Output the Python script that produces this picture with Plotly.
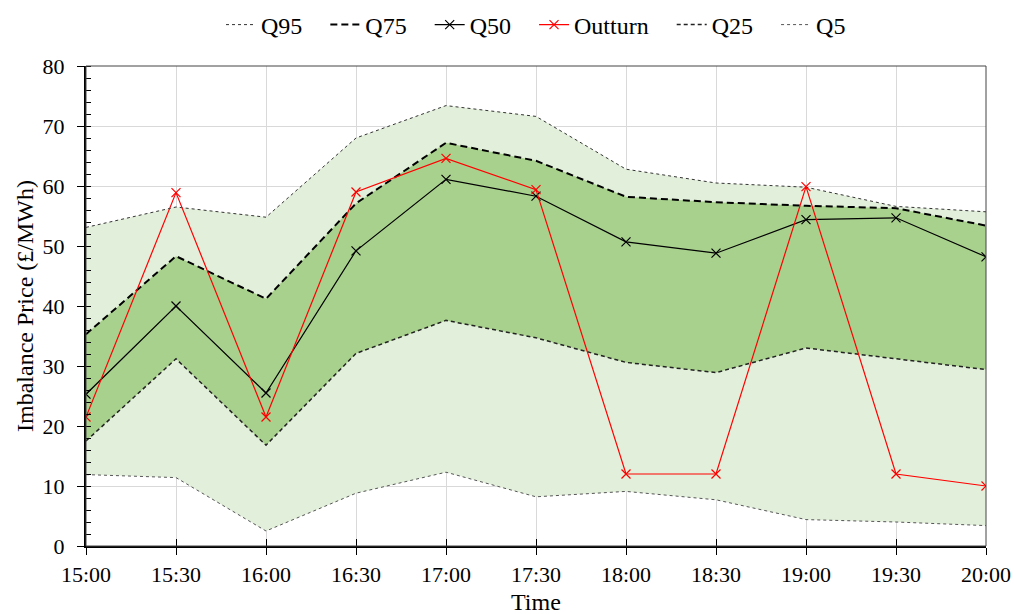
import plotly.graph_objects as go

# Half-hourly settlement periods
times = ["15:00", "15:30", "16:00", "16:30", "17:00", "17:30",
         "18:00", "18:30", "19:00", "19:30", "20:00"]

# Forecast quantiles of imbalance price (£/MWh)
q95 = [53.1, 56.5, 54.8, 68.0, 73.4, 71.6, 62.8, 60.5, 59.8, 56.6, 55.7]
q75 = [35.3, 48.3, 41.2, 57.1, 67.2, 64.2, 58.2, 57.3, 56.7, 56.3, 53.4]
q50 = [25.3, 40.0, 25.5, 49.2, 61.1, 58.3, 50.7, 48.8, 54.4, 54.7, 48.2]
q25 = [17.5, 31.2, 16.8, 32.1, 37.6, 34.7, 30.6, 28.9, 33.0, 31.2, 29.4]
q5 = [11.9, 11.4, 2.5, 8.8, 12.3, 8.2, 9.1, 7.7, 4.4, 4.0, 3.4]

# Realised imbalance price
outturn = [21.5, 58.9, 21.5, 59.0, 64.6, 59.4, 12.0, 12.0, 59.9, 12.0, 10.0]

y_ticks = [0, 10, 20, 30, 40, 50, 60, 70, 80]

xs = list(range(len(times)))

LIGHT = "#e2efda"
DARK = "#a9d18e"
FONT = "Liberation Serif, Times New Roman, serif"
PAD = "\u00a0\u00a0\u00a0"  # extra spacing after each legend label

fig = go.Figure()

# Shaded bands: Q5-Q95 (light) and Q25-Q75 (dark)
fig.add_trace(go.Scatter(x=xs, y=q5, mode="lines", line=dict(width=0),
                         showlegend=False, hoverinfo="skip"))
fig.add_trace(go.Scatter(x=xs, y=q95, mode="lines", line=dict(width=0),
                         fill="tonexty", fillcolor=LIGHT,
                         showlegend=False, hoverinfo="skip"))
fig.add_trace(go.Scatter(x=xs, y=q25, mode="lines", line=dict(width=0),
                         showlegend=False, hoverinfo="skip"))
fig.add_trace(go.Scatter(x=xs, y=q75, mode="lines", line=dict(width=0),
                         fill="tonexty", fillcolor=DARK,
                         showlegend=False, hoverinfo="skip"))

# Quantile boundary lines
fig.add_trace(go.Scatter(x=xs, y=q95, mode="lines", name="Q95" + PAD, legendrank=1,
                         line=dict(color="#333333", width=1, dash="dot")))
fig.add_trace(go.Scatter(x=xs, y=q75, mode="lines", name="Q75" + PAD, legendrank=2,
                         line=dict(color="black", width=2, dash="7px,4px")))
fig.add_trace(go.Scatter(x=xs, y=q25, mode="lines", name="Q25" + PAD, legendrank=5,
                         line=dict(color="#222222", width=1.5, dash="4px,3px")))
fig.add_trace(go.Scatter(x=xs, y=q5, mode="lines", name="Q5", legendrank=6,
                         line=dict(color="#555555", width=1, dash="dot")))

# Median and outturn with cross markers
fig.add_trace(go.Scatter(x=xs, y=q50, mode="lines+markers", name="Q50" + PAD,
                         legendrank=3,
                         line=dict(color="black", width=1.2),
                         marker=dict(symbol="x-thin", size=9,
                                     line=dict(color="black", width=1.2))))
fig.add_trace(go.Scatter(x=xs, y=outturn, mode="lines+markers", name="Outturn" + PAD,
                         legendrank=4,
                         line=dict(color="#ff0000", width=1.2),
                         marker=dict(symbol="x-thin", size=9,
                                     line=dict(color="#ff0000", width=1.2))))

# Invisible helper on an overlaid axis, used to draw the inner half of the x ticks
fig.add_trace(go.Scatter(x=xs, y=q50, xaxis="x2", mode="lines",
                         line=dict(width=0), opacity=0,
                         showlegend=False, hoverinfo="skip"))

fig.update_layout(
    width=1014, height=614,
    margin=dict(l=86, r=28, t=66, b=68),
    paper_bgcolor="white", plot_bgcolor="white",
    font=dict(family=FONT, size=22, color="black"),
    legend=dict(orientation="h", x=0.5, xanchor="center", traceorder="normal",
                y=1 - 25 / 614, yanchor="middle", yref="container",
                font=dict(family=FONT, size=24),
                itemwidth=30, tracegroupgap=0),
    xaxis=dict(
        range=[0, len(times) - 1], tickvals=xs, ticktext=times,
        showgrid=True, gridcolor="#d9d9d9", gridwidth=1,
        ticks="outside", ticklen=7, tickcolor="black", tickwidth=1,
        ticklabelstandoff=1,
        showline=True, linecolor="black", linewidth=2,
        zeroline=False, automargin=False,
        tickfont=dict(size=22),
    ),
    xaxis2=dict(
        overlaying="x", matches="x", range=[0, len(times) - 1], tickvals=xs,
        ticks="inside", ticklen=7, tickcolor="black", tickwidth=1,
        showticklabels=False, showgrid=False, showline=False, zeroline=False,
        side="bottom", automargin=False,
    ),
    yaxis=dict(
        range=[0, 80], tickvals=y_ticks,
        showgrid=True, gridcolor="#d9d9d9", gridwidth=1,
        ticks="outside", ticklen=7, tickcolor="black", tickwidth=1,
        ticklabelstandoff=8,
        minor=dict(dtick=2, ticks="inside", ticklen=5, tickcolor="black",
                   tickwidth=1, showgrid=False),
        showline=True, linecolor="black", linewidth=2,
        zeroline=False, automargin=False,
        title=dict(text="Imbalance Price (£/MWh)", standoff=2, font=dict(size=24)),
        tickfont=dict(size=22),
    ),
    # x-axis title placed just above the bottom edge of the page
    annotations=[dict(text="Time", xref="paper", yref="paper", x=0.5, y=-0.1165,
                      xanchor="center", yanchor="middle", showarrow=False,
                      font=dict(family=FONT, size=24, color="black"))],
    shapes=[dict(type="rect", xref="paper", yref="paper", x0=0, x1=1, y0=0, y1=1,
                 line=dict(color="#444444", width=1), layer="above")],
)

fig.write_html("out.html")
